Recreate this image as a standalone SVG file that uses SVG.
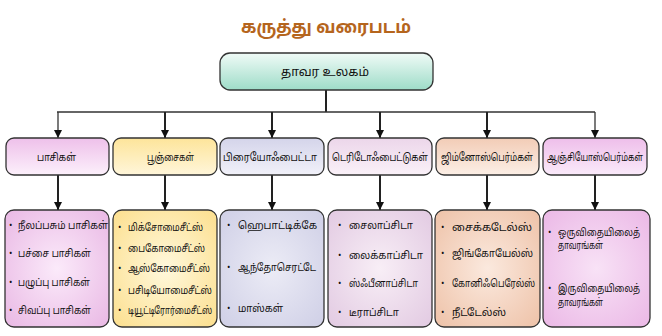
<svg xmlns="http://www.w3.org/2000/svg" width="662" height="336" viewBox="0 0 662 336">
<style>
text{font-family:"Noto Sans Tamil","Lohit Tamil","Noto Sans","DejaVu Sans",sans-serif;fill:#111}
.title{font-size:18px;font-weight:bold;fill:#b5651d}
.root{font-size:12px}
.l1{font-size:11px}
.it{font-size:10.5px}
.b{font-size:9px}
.box{stroke:#333;stroke-width:1.3}
.c{fill:none;stroke:#222;stroke-width:2}
.t{fill:none;stroke:#333;stroke-width:1.3}
</style>
<defs>
<marker id="ah" viewBox="0 0 10 10" refX="10" refY="5" markerWidth="9" markerHeight="8" markerUnits="userSpaceOnUse" orient="auto"><path d="M0,0 L10,5 L0,10 z" fill="#111"/></marker>
<linearGradient id="gRoot" x1="0" y1="0" x2="0" y2="1"><stop offset="0" stop-color="#f0fbf7"/><stop offset="1" stop-color="#9edcc8"/></linearGradient>
<linearGradient id="g1" x1="0" y1="0" x2="0" y2="1"><stop offset="0" stop-color="#eec0ea"/><stop offset="1" stop-color="#fcf0fb"/></linearGradient>
<linearGradient id="g2" x1="0" y1="0" x2="0" y2="1"><stop offset="0" stop-color="#fde49a"/><stop offset="1" stop-color="#fff6da"/></linearGradient>
<linearGradient id="g3" x1="0" y1="0" x2="0" y2="1"><stop offset="0" stop-color="#d4d4ea"/><stop offset="1" stop-color="#f1f1f9"/></linearGradient>
<linearGradient id="g4" x1="0" y1="0" x2="0" y2="1"><stop offset="0" stop-color="#ecd6ea"/><stop offset="1" stop-color="#faf1f8"/></linearGradient>
<linearGradient id="g5" x1="0" y1="0" x2="0" y2="1"><stop offset="0" stop-color="#f2ccb6"/><stop offset="1" stop-color="#fcefe6"/></linearGradient>
<linearGradient id="g6" x1="0" y1="0" x2="0" y2="1"><stop offset="0" stop-color="#eebeea"/><stop offset="1" stop-color="#faeafa"/></linearGradient>
<radialGradient id="r1" cx="0.5" cy="0.5" r="0.7"><stop offset="0" stop-color="#fbeafa"/><stop offset="1" stop-color="#e9b8e4"/></radialGradient>
<radialGradient id="r2" cx="0.5" cy="0.5" r="0.7"><stop offset="0" stop-color="#fff8dc"/><stop offset="1" stop-color="#fcdf8e"/></radialGradient>
<radialGradient id="r3" cx="0.5" cy="0.5" r="0.7"><stop offset="0" stop-color="#ececf6"/><stop offset="1" stop-color="#cfcfe6"/></radialGradient>
<radialGradient id="r4" cx="0.5" cy="0.5" r="0.7"><stop offset="0" stop-color="#f8eef6"/><stop offset="1" stop-color="#e2cae2"/></radialGradient>
<radialGradient id="r5" cx="0.5" cy="0.5" r="0.7"><stop offset="0" stop-color="#fbe9de"/><stop offset="1" stop-color="#eec2a8"/></radialGradient>
<radialGradient id="r6" cx="0.5" cy="0.5" r="0.7"><stop offset="0" stop-color="#f8e2f6"/><stop offset="1" stop-color="#ebb8e6"/></radialGradient>
</defs>

<text class="title" x="241" y="33" textLength="170" lengthAdjust="spacingAndGlyphs">கருத்து வரைபடம்</text>

<g id="connectors">
<line class="c" x1="326" y1="90" x2="326" y2="112"/>
<line class="t" x1="57" y1="112" x2="595" y2="112"/>
<line class="t" x1="58" y1="112" x2="58" y2="138" marker-end="url(#ah)"/>
<line class="c" x1="165" y1="112" x2="165" y2="138" marker-end="url(#ah)"/>
<line class="c" x1="272" y1="112" x2="272" y2="138" marker-end="url(#ah)"/>
<line class="c" x1="380" y1="112" x2="380" y2="138" marker-end="url(#ah)"/>
<line class="c" x1="487" y1="112" x2="487" y2="138" marker-end="url(#ah)"/>
<line class="t" x1="595" y1="112" x2="595" y2="138" marker-end="url(#ah)"/>
<line class="c" x1="58" y1="175" x2="58" y2="210" marker-end="url(#ah)"/>
<line class="c" x1="165" y1="175" x2="165" y2="210" marker-end="url(#ah)"/>
<line class="c" x1="272" y1="175" x2="272" y2="210" marker-end="url(#ah)"/>
<line class="c" x1="380" y1="175" x2="380" y2="210" marker-end="url(#ah)"/>
<line class="c" x1="487" y1="175" x2="487" y2="210" marker-end="url(#ah)"/>
<line class="c" x1="595" y1="175" x2="595" y2="210" marker-end="url(#ah)"/>
</g>

<g id="root">
<rect class="box" x="220" y="53" width="213" height="37" rx="10" fill="url(#gRoot)"/>
<text class="root" x="281" y="76" textLength="88" lengthAdjust="spacingAndGlyphs">தாவர உலகம்</text>
</g>

<g id="n1"><rect class="box" x="6" y="138" width="103" height="37" rx="8" fill="url(#g1)"/><text class="l1" x="37" y="161" textLength="39" lengthAdjust="spacingAndGlyphs">பாசிகள்</text></g>
<g id="n2"><rect class="box" x="113" y="138" width="104" height="37" rx="8" fill="url(#g2)"/><text class="l1" x="147" y="161" textLength="47" lengthAdjust="spacingAndGlyphs">பூஞ்சைகள்</text></g>
<g id="n3"><rect class="box" x="220" y="138" width="104" height="37" rx="8" fill="url(#g3)"/><text class="l1" transform="translate(223,161) scale(0.82,1)" textLength="114.6" lengthAdjust="spacingAndGlyphs">பிரையோஃபைட்டா</text></g>
<g id="n4"><rect class="box" x="328" y="138" width="104" height="37" rx="8" fill="url(#g4)"/><text class="l1" transform="translate(332,161) scale(0.82,1)" textLength="117.1" lengthAdjust="spacingAndGlyphs">டெரிடோஃபைட்டுகள்</text></g>
<g id="n5"><rect class="box" x="436" y="138" width="103" height="37" rx="8" fill="url(#g5)"/><text class="l1" transform="translate(441,161) scale(0.82,1)" textLength="112.2" lengthAdjust="spacingAndGlyphs">ஜிம்னோஸ்பெர்ம்கள்</text></g>
<g id="n6"><rect class="box" x="543" y="138" width="104" height="37" rx="8" fill="url(#g6)"/><text class="l1" transform="translate(547,161) scale(0.82,1)" textLength="117.1" lengthAdjust="spacingAndGlyphs">ஆஞ்சியோஸ்பெர்ம்கள்</text></g>

<g id="d1"><rect class="box" x="5" y="210" width="104" height="117" rx="9" fill="url(#r1)"/>
<text class="b" x="9" y="228">•</text><text class="it" transform="translate(18,229) scale(0.8,1)" textLength="112.5" lengthAdjust="spacingAndGlyphs">நீலப்பசும் பாசிகள்</text>
<text class="b" x="9" y="256">•</text><text class="it" transform="translate(18,257) scale(0.8,1)" textLength="91.25" lengthAdjust="spacingAndGlyphs">பச்சை பாசிகள்</text>
<text class="b" x="9" y="285">•</text><text class="it" transform="translate(18,286) scale(0.8,1)" textLength="90" lengthAdjust="spacingAndGlyphs">பழுப்பு பாசிகள்</text>
<text class="b" x="9" y="313">•</text><text class="it" transform="translate(18,314) scale(0.8,1)" textLength="91.25" lengthAdjust="spacingAndGlyphs">சிவப்பு பாசிகள்</text>
</g>
<g id="d2"><rect class="box" x="113" y="210" width="104" height="117" rx="9" fill="url(#r2)"/>
<text class="b" x="118" y="230">•</text><text class="it" transform="translate(128,231) scale(0.8,1)" textLength="93.75" lengthAdjust="spacingAndGlyphs">மிக்சோமைசீட்ஸ்</text>
<text class="b" x="118" y="251">•</text><text class="it" transform="translate(128,252) scale(0.8,1)" textLength="96.25" lengthAdjust="spacingAndGlyphs">பைகோமைசீட்ஸ்</text>
<text class="b" x="118" y="271">•</text><text class="it" transform="translate(128,272) scale(0.8,1)" textLength="102.5" lengthAdjust="spacingAndGlyphs">ஆஸ்கோமைசீட்ஸ்</text>
<text class="b" x="118" y="293">•</text><text class="it" transform="translate(128,294) scale(0.8,1)" textLength="105" lengthAdjust="spacingAndGlyphs">பசிடியோமைசீட்ஸ்</text>
<text class="b" x="118" y="313">•</text><text class="it" transform="translate(128,314) scale(0.8,1)" textLength="105" lengthAdjust="spacingAndGlyphs">டியூட்டிரோர்மைசீட்ஸ்</text>
</g>
<g id="d3"><rect class="box" x="220" y="210" width="104" height="117" rx="9" fill="url(#r3)"/>
<text class="b" x="227" y="228">•</text><text class="it" transform="translate(238,229) scale(0.8,1)" textLength="98.75" lengthAdjust="spacingAndGlyphs">ஹெபாட்டிக்கே</text>
<text class="b" x="227" y="270">•</text><text class="it" transform="translate(238,271) scale(0.8,1)" textLength="97.5" lengthAdjust="spacingAndGlyphs">ஆந்தோசெரட்டே</text>
<text class="b" x="227" y="311">•</text><text class="it" transform="translate(238,312) scale(0.8,1)" textLength="56.25" lengthAdjust="spacingAndGlyphs">மாஸ்கள்</text>
</g>
<g id="d4"><rect class="box" x="328" y="210" width="104" height="117" rx="9" fill="url(#r4)"/>
<text class="b" x="338" y="228">•</text><text class="it" transform="translate(349,229) scale(0.8,1)" textLength="80" lengthAdjust="spacingAndGlyphs">சைலாப்சிடா</text>
<text class="b" x="338" y="258">•</text><text class="it" transform="translate(349,259) scale(0.8,1)" textLength="92.5" lengthAdjust="spacingAndGlyphs">லைக்காப்சிடா</text>
<text class="b" x="338" y="286">•</text><text class="it" transform="translate(349,287) scale(0.8,1)" textLength="86.25" lengthAdjust="spacingAndGlyphs">ஸ்ஃபீனாப்சிடா</text>
<text class="b" x="338" y="315">•</text><text class="it" transform="translate(349,316) scale(0.8,1)" textLength="62.5" lengthAdjust="spacingAndGlyphs">டீராப்சிடா</text>
</g>
<g id="d5"><rect class="box" x="435" y="210" width="105" height="117" rx="9" fill="url(#r5)"/>
<text class="b" x="441" y="230">•</text><text class="it" transform="translate(452,231) scale(0.8,1)" textLength="100" lengthAdjust="spacingAndGlyphs">சைக்கடேல்ஸ்</text>
<text class="b" x="441" y="256">•</text><text class="it" transform="translate(452,257) scale(0.8,1)" textLength="101.25" lengthAdjust="spacingAndGlyphs">ஜிங்கோயேல்ஸ்</text>
<text class="b" x="441" y="286">•</text><text class="it" transform="translate(452,287) scale(0.8,1)" textLength="103.75" lengthAdjust="spacingAndGlyphs">கோனிஃபெரேல்ஸ்</text>
<text class="b" x="441" y="315">•</text><text class="it" transform="translate(452,316) scale(0.8,1)" textLength="67.5" lengthAdjust="spacingAndGlyphs">நீட்டேல்ஸ்</text>
</g>
<g id="d6"><rect class="box" x="543" y="210" width="107" height="117" rx="9" fill="url(#r6)"/>
<text class="b" x="548" y="235">•</text><text class="it" transform="translate(558,236) scale(0.8,1)" textLength="102.5" lengthAdjust="spacingAndGlyphs">ஒருவிதையிலைத்</text>
<text class="it" transform="translate(558,249) scale(0.8,1)" textLength="56.25" lengthAdjust="spacingAndGlyphs">தாவரங்கள்</text>
<text class="b" x="548" y="291">•</text><text class="it" transform="translate(558,292) scale(0.8,1)" textLength="102.5" lengthAdjust="spacingAndGlyphs">இருவிதையிலைத்</text>
<text class="it" transform="translate(558,306) scale(0.8,1)" textLength="56.25" lengthAdjust="spacingAndGlyphs">தாவரங்கள்</text>
</g>
</svg>
